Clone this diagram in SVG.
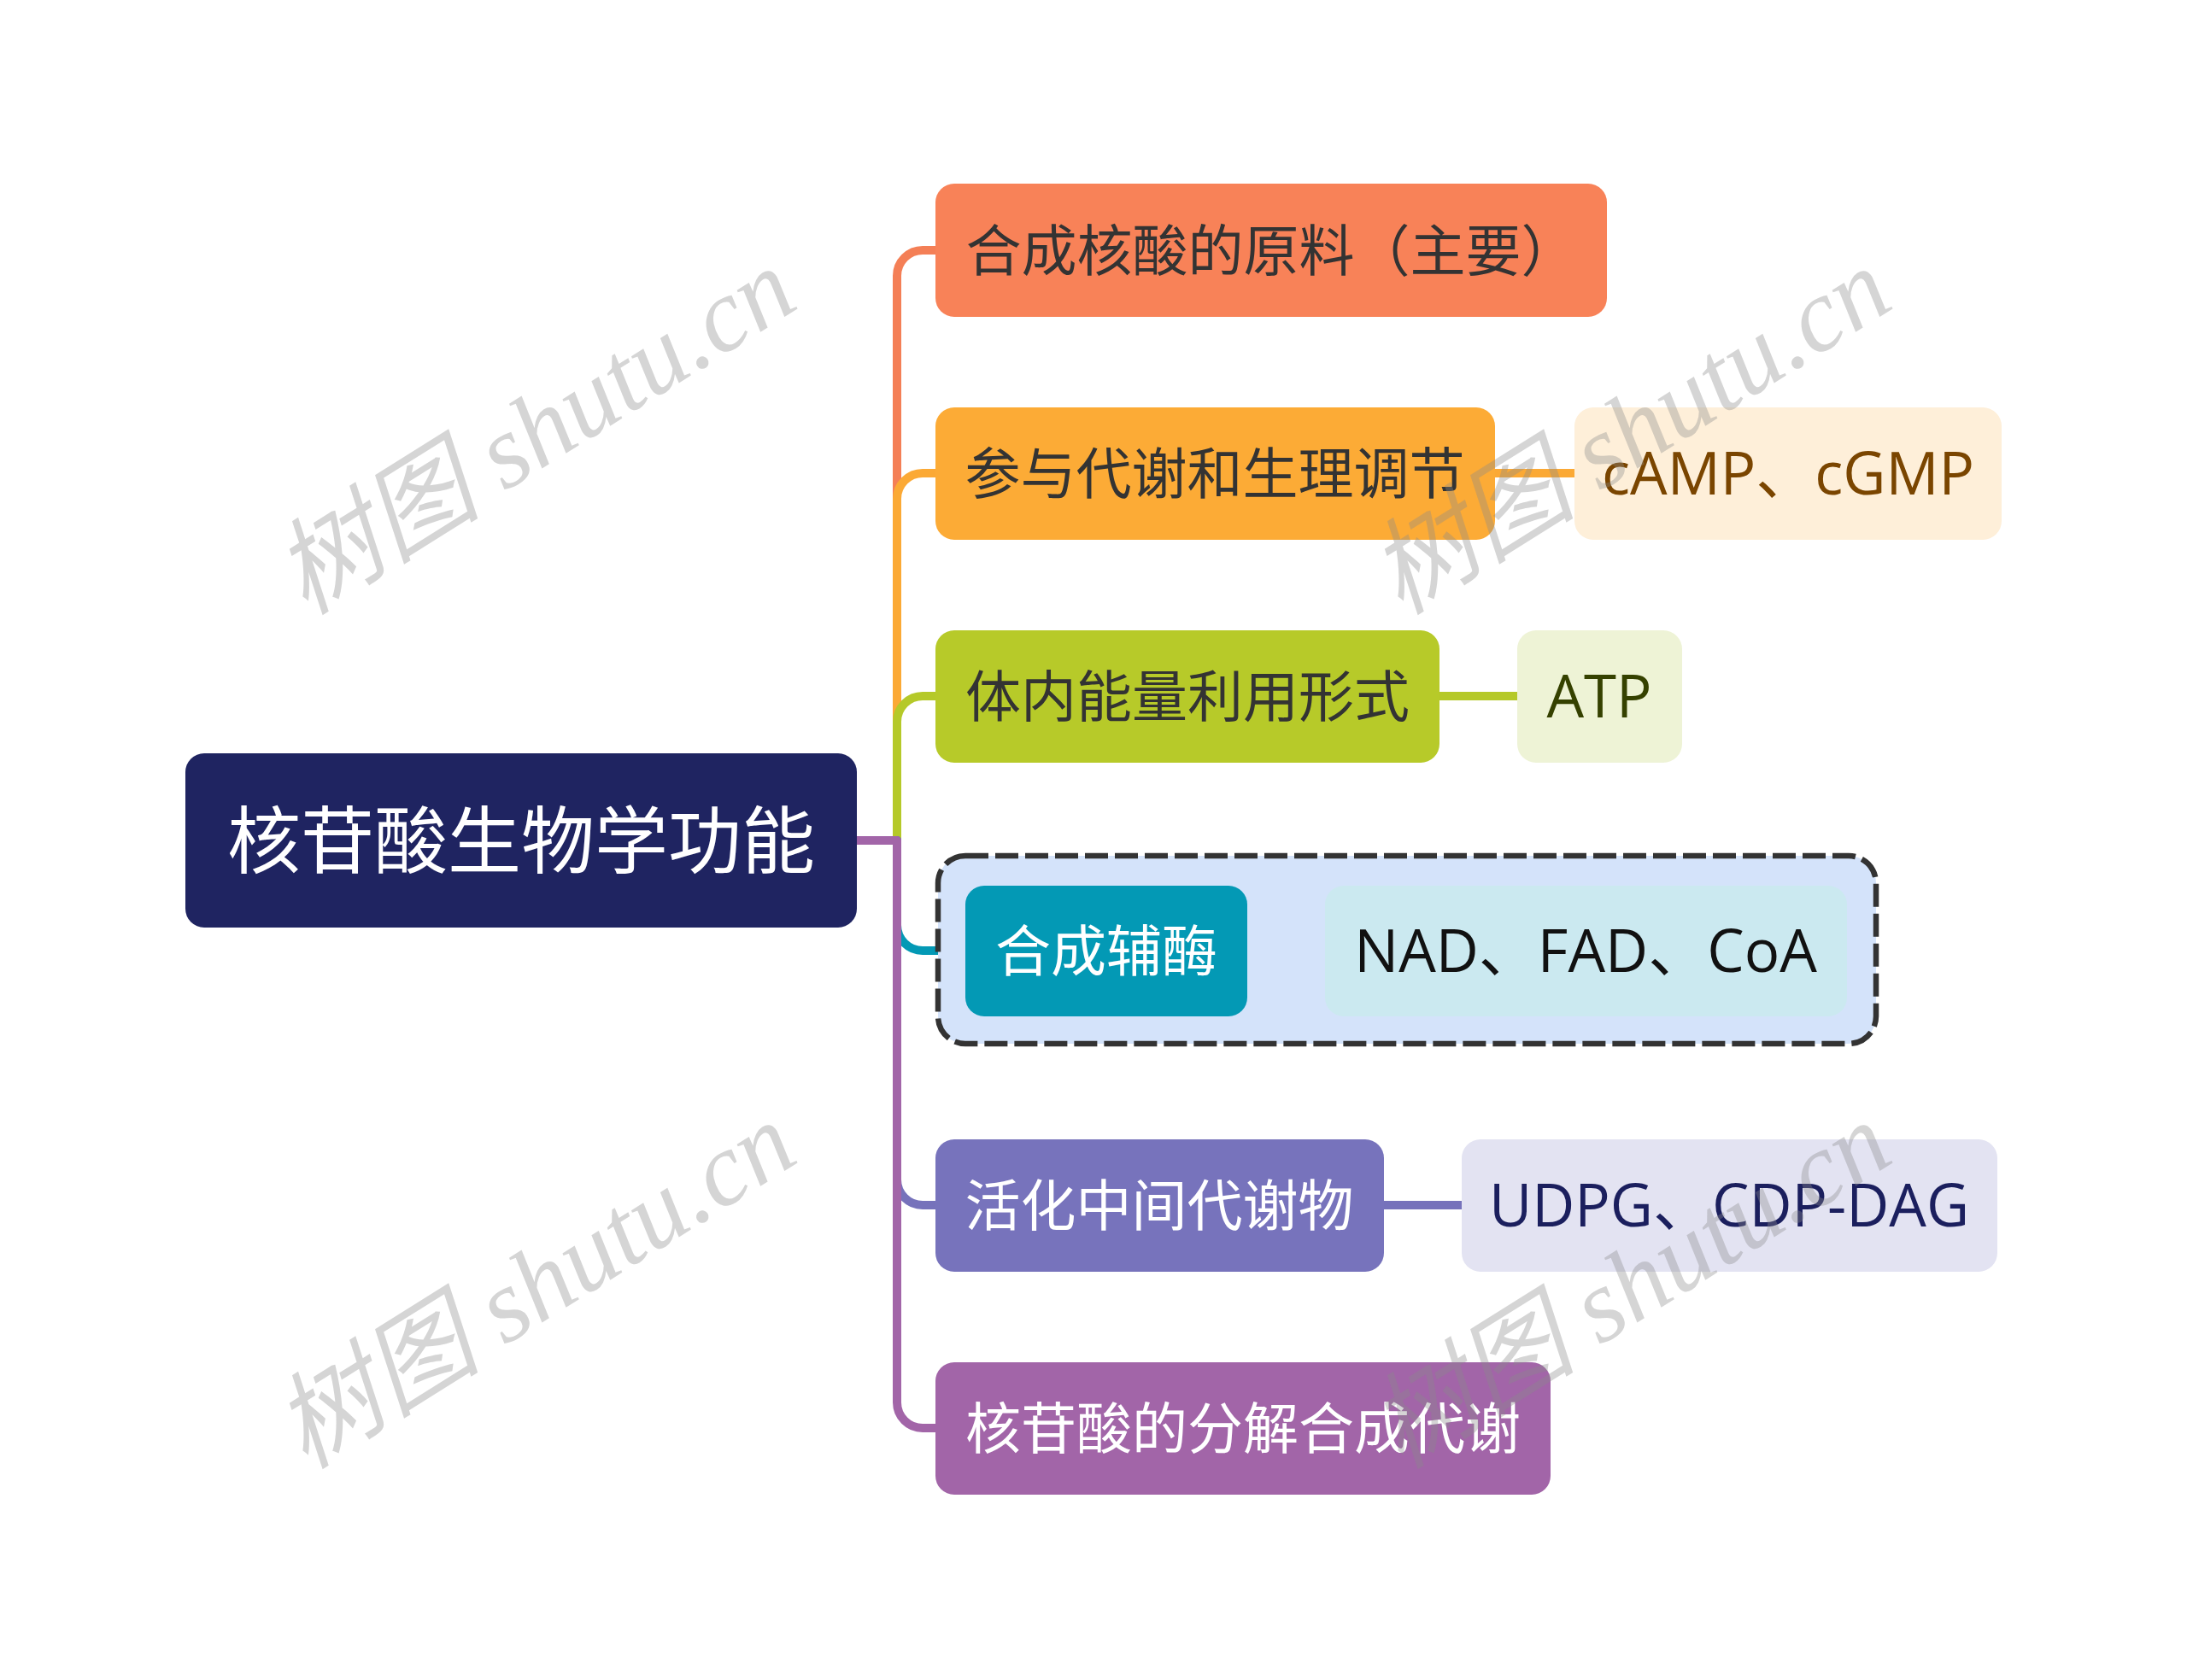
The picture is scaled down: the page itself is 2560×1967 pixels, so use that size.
<svg xmlns="http://www.w3.org/2000/svg" width="2560" height="1967" viewBox="0 0 2560 1967">
<style>
.t{font-family:"Open Sans","Noto Sans CJK SC",sans-serif;font-size:65px;text-anchor:middle}
.lat{font-size:69px}
.root{font-size:86px;fill:#ffffff}
.dk{fill:#333333}
.wh{fill:#ffffff}
.ln{fill:none;stroke-width:10;stroke-linecap:butt;stroke-linejoin:round}
.wm{font-family:"Liberation Serif","Noto Sans CJK SC",serif;font-style:italic;font-size:122px;fill:#8a8a8a;fill-opacity:0.36;text-anchor:middle}
</style>
<rect width="2560" height="1967" fill="#ffffff"/>
<g id="connectors">
  <path class="ln" stroke="#f47f56" d="M1003 984 H1050 V323 A30 30 0 0 1 1080 293 H1096"/>
  <path class="ln" stroke="#fba935" d="M1003 984 H1050 V584 A30 30 0 0 1 1080 554 H1096"/>
  <path class="ln" stroke="#b5c929" d="M1003 984 H1050 V845 A30 30 0 0 1 1080 815 H1096"/>
  <path class="ln" stroke="#0399b5" d="M1003 984 H1050 V1083 A30 30 0 0 0 1080 1113 H1132"/>
  <path class="ln" stroke="#7672bb" d="M1003 984 H1050 V1381 A30 30 0 0 0 1080 1411 H1096"/>
  <path class="ln" stroke="#a265a8" d="M1003 984 H1050 V1642 A30 30 0 0 0 1080 1672 H1096"/>
  <path class="ln" stroke="#fba935" d="M1748 554 H1844"/>
  <path class="ln" stroke="#b5c929" d="M1683 815 H1778"/>
  <path class="ln" stroke="#0399b5" d="M1458 1113 H1553"/>
  <path class="ln" stroke="#7672bb" d="M1618 1411 H1713"/>
</g>
<g id="root">
  <rect x="217" y="882" width="786" height="204" rx="22" fill="#1f2461"/>
  <text class="t root" x="610" y="1016">核苷酸生物学功能</text>
</g>
<g id="n1">
  <rect x="1095" y="215" width="786" height="156" rx="22" fill="#f88258"/>
  <text class="t dk" x="1488" y="317">合成核酸的原料（主要）</text>
</g>
<g id="n2">
  <rect x="1095" y="477" width="655" height="155" rx="22" fill="#fcab36"/>
  <text class="t dk" x="1422" y="578">参与代谢和生理调节</text>
</g>
<g id="n2a">
  <rect x="1843" y="477" width="500" height="155" rx="22" fill="#feefd9"/>
  <text class="t lat" fill="#7a4500" x="2093" y="579">cAMP、cGMP</text>
</g>
<g id="n3">
  <rect x="1095" y="738" width="590" height="155" rx="22" fill="#b7ca29"/>
  <text class="t dk" x="1390" y="839">体内能量利用形式</text>
</g>
<g id="n3a">
  <rect x="1776" y="738" width="193" height="155" rx="22" fill="#eef3d6"/>
  <text class="t lat" fill="#354100" x="1872" y="840">ATP</text>
</g>
<g id="group4">
  <rect x="1098" y="1002" width="1098" height="220" rx="32" fill="#d4e3fa" stroke="#333333" stroke-width="6.5" stroke-dasharray="27 8"/>
</g>
<g id="n4">
  <rect x="1130" y="1037" width="330" height="153" rx="22" fill="#0399b5"/>
  <text class="t wh" x="1295" y="1137">合成辅酶</text>
</g>
<g id="n4a">
  <rect x="1551" y="1037" width="611" height="153" rx="22" fill="#cbe9f0"/>
  <text class="t lat" fill="#111111" x="1856" y="1138">NAD、FAD、CoA</text>
</g>
<g id="n5">
  <rect x="1095" y="1334" width="525" height="155" rx="22" fill="#7773bc"/>
  <text class="t wh" x="1357" y="1435">活化中间代谢物</text>
</g>
<g id="n5a">
  <rect x="1711" y="1334" width="627" height="155" rx="22" fill="#e3e3f2"/>
  <text class="t lat" fill="#1b1f5e" x="2024" y="1436">UDPG、CDP-DAG</text>
</g>
<g id="n6">
  <rect x="1095" y="1595" width="720" height="155" rx="22" fill="#a265a8"/>
  <text class="t wh" x="1455" y="1696">核苷酸的分解合成代谢</text>
</g>
<g id="watermarks">
  <text class="wm" transform="translate(648,540) rotate(-32)">树图 shutu.cn</text>
  <text class="wm" transform="translate(1930,540) rotate(-32)">树图 shutu.cn</text>
  <text class="wm" transform="translate(648,1540) rotate(-32)">树图 shutu.cn</text>
  <text class="wm" transform="translate(1930,1540) rotate(-32)">树图 shutu.cn</text>
</g>
</svg>
